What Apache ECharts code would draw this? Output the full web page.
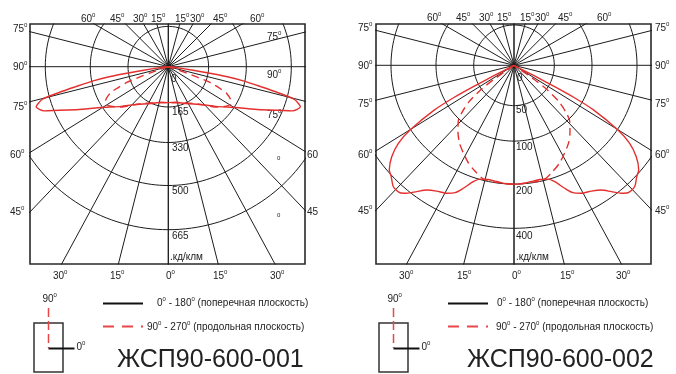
<!DOCTYPE html>
<html>
<head>
<meta charset="utf-8">
<script src="https://cdn.jsdelivr.net/npm/echarts@6/dist/echarts.min.js"></script>
<style>
  html, body { margin: 0; padding: 0; background: #fff; }
  #chart { width: 676px; height: 374px; }
</style>
</head>
<body>
<div id="chart"></div>
<script>
// ring (circle) values, cd/klm
const ringValues001 = [165, 330, 500, 665]
const ringValues002 = [50, 100, 200, 400]

// angle tick labels
const topLabels = [60, 45, 30, 15, 15, 30, 45, 60]
const sideLabels = [75, 90, 75, 60, 45]
const bottomLabels = [30, 15, 0, 15, 30]

// intensity curves: [angle from nadir (deg), cd/klm], mirrored for both sides
const solid001 = [[0, 148], [12, 150], [25, 168], [42, 214], [50, 262], [58.8, 337], [63, 392], [66.7, 456],
  [70.4, 542], [73.1, 567], [75.5, 535], [76.7, 466], [77.8, 400], [79.2, 334], [80.4, 254], [81.3, 144],
  [82.5, 62], [85, 16], [90, 0]]
const dashed001 = [[0, 149], [20, 159], [35, 187], [45.7, 237], [50, 267], [55.6, 299], [58.5, 310], [61.1, 307],
  [65.5, 272], [67, 241], [69.2, 185], [70.2, 124], [71, 78], [72.5, 21], [75, 0]]
const solid002 = [[0, 195], [3.5, 195], [8.5, 192], [12.7, 191], [16.6, 195], [19.3, 211], [22.4, 257], [24.8, 292],
  [27.7, 312], [31.6, 327], [35, 349], [37.6, 383], [40, 419], [41.8, 438], [44.8, 439], [47.8, 413], [50, 399],
  [53.2, 351], [56, 288], [58.1, 207], [60.7, 133], [61.8, 88], [62.3, 58], [62.7, 29], [64, 0]]
const dashed002 = [[0, 195], [10, 194], [15, 193], [20, 182], [25, 170], [30, 155], [35, 141], [40, 123], [45, 104],
  [48, 90], [51, 74], [53.5, 53], [55, 31], [56.5, 0]]

// ---- layout ----
const FONT = '"Liberation Sans", Arial, sans-serif'
const RED = '#e3302f'
const INK = '#1c1c1c'
const ringRadii = [40, 77, 121, 163]          // px from the centre (value scale)
const ringRx = [40.3, 78, 123, 166]           // drawn circles are slightly wider than tall
const ringRy = [40.3, 75.8, 118.8, 163]
// grid rays, degrees from nadir (one half, mirrored)
const rayAngles = [0, 14.2, 28.4, 43.6, 58.2, 75.8, 90, 104.2, 120, 135, 150, 165, 180]

const panels = [
  { box: [30, 24, 275, 240], center: [168.3, 66.7], rings: ringValues001, solid: solid001, dashed: dashed001 },
  { box: [376, 24, 275, 240], center: [514, 65.3], rings: ringValues002, solid: solid002, dashed: dashed002 },
]

function toRadius(v, rings) {
  const vs = [0].concat(rings), rs = [0].concat(ringRadii)
  for (let i = 1; i < vs.length; i++) {
    if (v <= vs[i] || i === vs.length - 1) {
      const t = (v - vs[i - 1]) / (vs[i] - vs[i - 1])
      return rs[i - 1] + t * (rs[i] - rs[i - 1])
    }
  }
}
function polarPx(a, r) {
  const rad = a * Math.PI / 180
  return [r * Math.sin(rad), -r * Math.cos(rad)]
}
function curvePoints(data, rings) {
  const left = data.slice().reverse().map(([a, v]) => polarPx(-a, toRadius(v, rings)))
  const right = data.slice(1).map(([a, v]) => polarPx(a, toRadius(v, rings)))
  return left.concat(right)
}

const series = []
panels.forEach((p, i) => {
  const base = { type: 'line', xAxisIndex: i, yAxisIndex: i, symbol: 'none', silent: true, animation: false, clip: true }
  ringRx.forEach((rx, k) => {
    const ry = ringRy[k]
    const pts = []
    for (let a = 0; a <= 360; a += 2) {
      const rad = a * Math.PI / 180
      pts.push([rx * Math.cos(rad), ry * Math.sin(rad)])
    }
    series.push({ ...base, data: pts, lineStyle: { color: INK, width: 1 } })
  })
  rayAngles.forEach(a => {
    series.push({ ...base, data: [polarPx(-a, 500), [0, 0], polarPx(a, 500)], lineStyle: { color: INK, width: 1 } })
  })
  series.push({ ...base, data: curvePoints(p.solid, p.rings), smooth: 0.25, lineStyle: { color: RED, width: 1.4 } })
  series.push({ ...base, data: curvePoints(p.dashed, p.rings), smooth: 0.25, lineStyle: { color: RED, width: 1.4, type: [8, 5] } })
})

// ---- text helpers ----
function deg(x, y, num, sup = true) {
  return {
    type: 'text', x, y, silent: true,
    style: {
      text: sup ? `{n|${num}}{d|0}` : `{n|${num}}`,
      textVerticalAlign: 'middle', verticalAlign: 'middle',
      rich: {
        n: { fontSize: 10, fontFamily: FONT, fill: '#222', lineHeight: 14 },
        d: { fontSize: 6, fontFamily: FONT, fill: '#222', verticalAlign: 'top', lineHeight: 7 },
      },
    },
  }
}
function txt(x, y, text, size, extra = {}) {
  return {
    type: 'text', x, y, silent: true,
    style: { text, fontSize: size, fontFamily: FONT, fill: '#222', verticalAlign: 'middle', textVerticalAlign: 'middle', ...extra },
  }
}
function legendText(x, y, a, b, rest) {
  return {
    type: 'text', x, y, silent: true,
    style: {
      text: `{a|${a}}{d|0}{a|${b}}{d|0}{a|${rest}}`,
      verticalAlign: 'middle', textVerticalAlign: 'middle',
      rich: {
        a: { fontSize: 10, fontFamily: FONT, fill: '#222', lineHeight: 14 },
        d: { fontSize: 6, fontFamily: FONT, fill: '#222', verticalAlign: 'top', lineHeight: 7 },
      },
    },
  }
}

const g = []
// left panel labels
const topX001 = [81, 110, 133, 151, 175, 190, 213, 250]
topLabels.forEach((v, k) => g.push(deg(topX001[k], 19, v)))
const sideY001 = [29, 67, 107, 155, 212]
sideLabels.forEach((v, k) => g.push(deg(k < 3 ? 13 : 10, sideY001[k], v)))
const rightY001 = [37, 75, 115]
sideLabels.slice(0, 3).forEach((v, k) => g.push(deg(267, rightY001[k], v)))
g.push(txt(277, 158, '0', 6), txt(277, 215, '0', 6))
g.push(deg(307, 155, sideLabels[3], false), deg(307, 212, sideLabels[4], false))
const bottomX001 = [53, 110, 166, 213, 270]
bottomLabels.forEach((v, k) => g.push(deg(bottomX001[k], 276, v)))
const ringY001 = [112, 148.5, 191.7, 236.7]
g.push(txt(171, 79, '0', 10))
ringValues001.forEach((v, k) => g.push(txt(172, ringY001[k], String(v), 10)))
g.push(txt(170, 257.7, '.кд/клм', 10))

// right panel labels
const topX002 = [427, 456, 479, 497, 520, 535, 558, 597]
topLabels.forEach((v, k) => g.push(deg(topX002[k], 18, v)))
const sideY002 = [28, 66, 104, 155, 211]
sideLabels.forEach((v, k) => g.push(deg(358, sideY002[k], v)))
sideLabels.forEach((v, k) => g.push(deg(655, sideY002[k], v)))
const bottomX002 = [399, 457, 512, 560, 616]
bottomLabels.forEach((v, k) => g.push(deg(bottomX002[k], 276, v)))
const ringY002 = [110, 147.5, 191.7, 236]
g.push(txt(517, 78, '0', 10))
ringValues002.forEach((v, k) => g.push(txt(516, ringY002[k], String(v), 10)))
g.push(txt(516, 257.7, '.кд/клм', 10))

// legends
const legends = [
  { sx: 34, lineX: 103, t1: 157, t2: 147, title: 'ЖСП90-600-001', titleX: 117 },
  { sx: 379, lineX: 448, t1: 497, t2: 496, title: 'ЖСП90-600-002', titleX: 467 },
]
legends.forEach(L => {
  const cx = L.sx + 14.5
  g.push({ type: 'rect', silent: true, shape: { x: L.sx, y: 323, width: 29, height: 49 }, style: { fill: 'none', stroke: '#333', lineWidth: 1.5 } })
  g.push({ type: 'line', silent: true, shape: { x1: cx, y1: 308, x2: cx, y2: 348 }, style: { stroke: '#e8474a', lineWidth: 1.5, lineDash: [9, 4] } })
  g.push({ type: 'line', silent: true, shape: { x1: cx, y1: 348.5, x2: cx + 26, y2: 348.5 }, style: { stroke: '#111', lineWidth: 2 } })
  g.push(deg(cx - 6, 299, 90))
  g.push(deg(cx + 28, 347, 0))
  g.push({ type: 'line', silent: true, shape: { x1: L.lineX, y1: 303.5, x2: L.lineX + 40, y2: 303.5 }, style: { stroke: '#111', lineWidth: 2 } })
  g.push(legendText(L.t1, 303, '0', ' - 180', ' (поперечная плоскость)'))
  g.push({ type: 'line', silent: true, shape: { x1: L.lineX, y1: 326.5, x2: L.lineX + 40, y2: 326.5 }, style: { stroke: '#e8474a', lineWidth: 2, lineDash: [11, 8] } })
  g.push(legendText(L.t2, 327, '90', ' - 270', ' (продольная плоскость)'))
  g.push(txt(L.titleX, 360, L.title, 25))
})

const chart = echarts.init(document.getElementById('chart'), null, { renderer: 'canvas' })
chart.setOption({
  animation: false,
  backgroundColor: '#fff',
  grid: panels.map(p => ({
    left: p.box[0], top: p.box[1], width: p.box[2], height: p.box[3],
    show: true, borderColor: '#2a2a2a', borderWidth: 1.6, backgroundColor: 'transparent', containLabel: false,
  })),
  xAxis: panels.map((p, i) => ({
    type: 'value', gridIndex: i, show: false,
    min: p.box[0] - p.center[0], max: p.box[0] + p.box[2] - p.center[0],
  })),
  yAxis: panels.map((p, i) => ({
    type: 'value', gridIndex: i, show: false,
    min: p.center[1] - (p.box[1] + p.box[3]), max: p.center[1] - p.box[1],
  })),
  series,
  graphic: g,
})
</script>
</body>
</html>
